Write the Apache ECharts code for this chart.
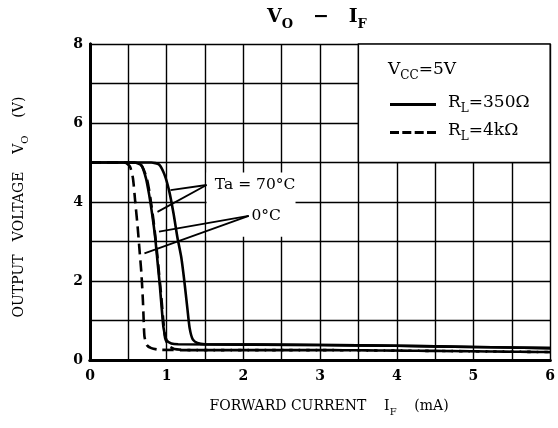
<!DOCTYPE html>
<html>
<head>
<meta charset="utf-8">
<script src="https://cdn.jsdelivr.net/npm/echarts@6/dist/echarts.min.js"></script>
<style>
  html, body { margin: 0; padding: 0; background: #fff; }
  #main { width: 558px; height: 428px; }
</style>
</head>
<body>
<div id="main"></div>
<script>
// I_F (mA), V_O (V) pairs
const rl350_70 = [[0,5],[0.8,5],[0.9,4.95],[0.97,4.7],[1.03,4.3],[1.09,3.7],[1.14,3.1],[1.19,2.6],[1.23,2.0],[1.27,1.3],[1.3,0.8],[1.34,0.52],[1.4,0.43],[1.5,0.4],[3,0.38],[4,0.36],[5,0.33],[6,0.3]];
const rl350_0  = [[0,5],[0.58,5],[0.67,4.93],[0.73,4.6],[0.77,4.2],[0.81,3.7],[0.85,3.1],[0.88,2.5],[0.91,1.9],[0.94,1.2],[0.96,0.8],[1.0,0.5],[1.06,0.42],[1.15,0.4],[3,0.38],[4,0.36],[5,0.33],[6,0.3]];
const rl4k_70  = [[0,5],[0.6,5],[0.68,4.9],[0.74,4.6],[0.78,4.2],[0.83,3.5],[0.87,2.8],[0.9,2.2],[0.93,1.6],[0.96,0.9],[0.98,0.55],[1.03,0.35],[1.1,0.28],[1.3,0.25],[3,0.25],[4.5,0.23],[6,0.2]];
const rl4k_0   = [[0,5],[0.45,5],[0.52,4.9],[0.56,4.6],[0.59,4.0],[0.62,3.4],[0.645,2.8],[0.67,2.2],[0.69,1.5],[0.7,1.0],[0.71,0.6],[0.74,0.38],[0.8,0.3],[0.9,0.26],[1.2,0.25],[3,0.25],[4.5,0.23],[6,0.2]];

const xTicks = [0, 1, 2, 3, 4, 5, 6];
const yTicks = [0, 2, 4, 6, 8];
const legendNames = ['RL=350Ω', 'RL=4kΩ'];

const serif = 'DejaVu Serif';
const sub = (size) => ({ fontFamily: serif, fontSize: size, color: '#000', verticalAlign: 'top', padding: [Math.round(size * 0.75), 0, 0, 0], lineHeight: size });
const main = (size, w) => ({ fontFamily: serif, fontSize: size, color: '#000', fontWeight: w || 'normal', verticalAlign: 'top', lineHeight: size + 4 });

let myChart = echarts.init(document.getElementById('main'), null, { renderer: 'canvas' });

let solid = { type: 'solid', width: 2.6, color: '#000' };
let dashed = { type: [11, 6], width: 2.6, color: '#000' };

function curve(name, data, ls) {
  return {
    name: name,
    type: 'line',
    data: data,
    smooth: 0.2,
    showSymbol: false,
    symbol: 'none',
    z: 3,
    lineStyle: ls,
    itemStyle: { color: '#000' }
  };
}

myChart.setOption({
  animation: false,
  backgroundColor: '#fff',
  color: ['#000'],
  title: {
    text: '{m|V}{s|O}{m|   −   I}{s|F}',
    left: 262,
    top: 3,
    textStyle: { color: '#000', rich: { m: main(19, 'bold'), s: sub(13) } }
  },
  legend: {
    data: [
      { name: legendNames[0], icon: 'path://M0 0H46V3H0Z' },
      { name: legendNames[1], icon: 'path://M0 0H9V3H0Z M12.3 0H21.3V3H12.3Z M24.7 0H33.7V3H24.7Z M37 0H46V3H37Z' }
    ],
    left: 390,
    top: 94,
    padding: 0,
    orient: 'vertical',
    itemWidth: 46,
    itemHeight: 3,
    itemGap: 7,
    selectedMode: false,
    itemStyle: { color: '#000', borderWidth: 0 },
    formatter: function (n) {
      return n === legendNames[0] ? '{m|R}{s|L}{m|=350Ω}' : '{m|R}{s|L}{m|=4kΩ}';
    },
    textStyle: { color: '#000', padding: [0, 0, 0, 7], rich: { m: main(17), s: sub(12) } },
    z: 10
  },
  graphic: [{
    type: 'text',
    left: 388,
    top: 61,
    z: 10,
    style: {
      text: '{m|V}{s|CC}{m|=5V}',
      fill: '#000',
      rich: { m: main(17), s: sub(12) }
    }
  }],
  grid: { left: 90, right: 5, top: 44, bottom: 68 },
  xAxis: [{
    type: 'value',
    min: 0, max: 6, interval: 0.5,
    name: '{m|FORWARD CURRENT    I}{s|F}{m|    (mA)}',
    nameLocation: 'middle',
    nameGap: 39,
    nameTextStyle: { color: '#000', padding: [0, 0, 0, 18], rich: { m: main(14), s: sub(10) } },
    axisLine: { lineStyle: { color: '#000', width: 3 } },
    axisTick: { show: false },
    axisLabel: {
      color: '#000', fontFamily: serif, fontWeight: 'bold', fontSize: 14, margin: 9,
      formatter: v => xTicks.indexOf(v) >= 0 ? String(v) : ''
    },
    splitLine: { lineStyle: { color: '#000', width: 1.4 } },
    z: 0
  }, {
    type: 'value', position: 'top', min: 0, max: 6,
    axisLine: { show: true, lineStyle: { color: '#000', width: 3 } },
    axisTick: { show: false }, axisLabel: { show: false }, splitLine: { show: false },
    z: 10
  }],
  yAxis: [{
    type: 'value',
    min: 0, max: 8, interval: 1,
    name: '{m|OUTPUT   VOLTAGE    V}{s|O}{m|    (V)}',
    nameLocation: 'middle',
    nameRotate: 90,
    nameGap: 60,
    nameTextStyle: { color: '#000', padding: [0, 10, 0, 0], rich: { m: main(14), s: sub(10) } },
    axisLine: { show: true, lineStyle: { color: '#000', width: 3 } },
    axisTick: { show: false },
    axisLabel: {
      color: '#000', fontFamily: serif, fontWeight: 'bold', fontSize: 14, margin: 7,
      formatter: v => yTicks.indexOf(v) >= 0 ? String(v) : ''
    },
    splitLine: { lineStyle: { color: '#000', width: 1.4 } },
    z: 0
  }, {
    type: 'value', position: 'right', min: 0, max: 8,
    axisLine: { show: true, lineStyle: { color: '#000', width: 3 } },
    axisTick: { show: false }, axisLabel: { show: false }, splitLine: { show: false },
    z: 10
  }],
  series: [
    {
      name: 'boxes',
      type: 'line',
      data: [],
      z: 1,
      silent: true,
      markArea: {
        silent: true,
        data: [
          [{ coord: [1.52, 3.12], itemStyle: { color: '#fff' } }, { coord: [2.68, 4.75] }],
          [{ coord: [3.5, 5], itemStyle: { color: '#fff', borderColor: '#000', borderWidth: 1.4 } }, { coord: [6, 8] }]
        ]
      }
    },
    curve(legendNames[0], rl350_70, solid),
    curve(legendNames[0], rl350_0, solid),
    curve(legendNames[1], rl4k_70, dashed),
    curve(legendNames[1], rl4k_0, dashed),
    {
      name: 'notes',
      type: 'line',
      data: [],
      z: 4,
      silent: true,
      markLine: {
        silent: true,
        symbol: ['none', 'arrow'],
        symbolSize: [0, 10],
        label: { show: false },
        lineStyle: { color: '#000', width: 1.8, type: 'solid' },
        data: [
          [{ coord: [1.52, 4.43] }, { coord: [1.05, 4.3] }],
          [{ coord: [1.52, 4.43] }, { coord: [0.88, 3.75] }],
          [{ coord: [2.07, 3.65] }, { coord: [0.9, 3.25] }],
          [{ coord: [2.07, 3.65] }, { coord: [0.71, 2.7] }]
        ]
      },
      markPoint: {
        silent: true,
        symbolSize: 0,
        label: {
          show: true, position: 'right', distance: 6, color: '#000',
          fontFamily: serif, fontSize: 15.5
        },
        data: [
          { coord: [1.55, 4.43], label: { formatter: 'Ta = 70°C' } },
          { coord: [2.08, 3.65], label: { formatter: '0°C', distance: 2 } }
        ]
      }
    }
  ]
});
</script>
</body>
</html>
